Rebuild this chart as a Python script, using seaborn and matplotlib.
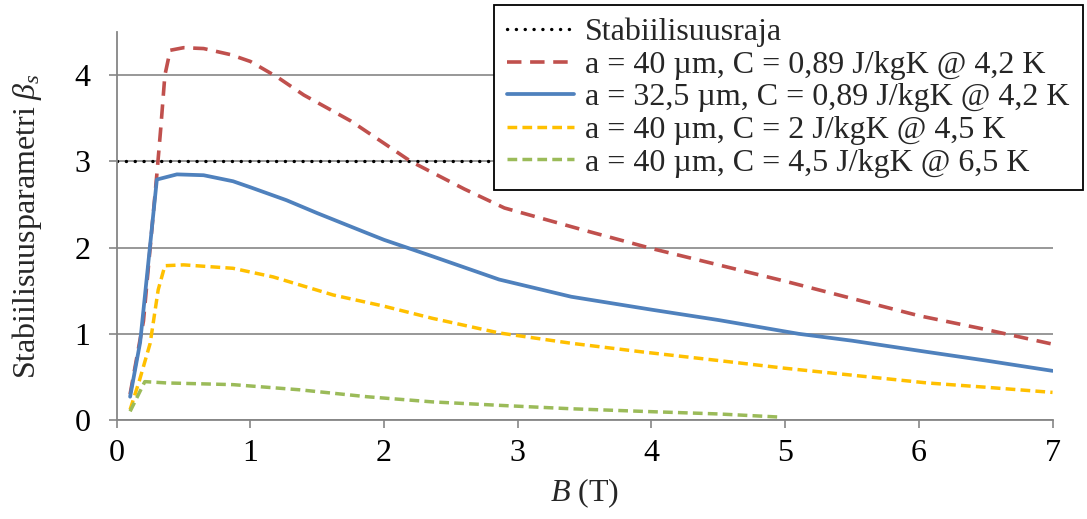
import matplotlib
matplotlib.use("Agg")
import matplotlib.pyplot as plt
import seaborn as sns
import numpy as np

# ---- data ----
stab_x = [0.0, 7.0]
stab_y = [3.0, 3.0]

red_x = [0.1, 0.2, 0.3, 0.33, 0.36, 0.4, 0.5, 0.65, 0.85, 1.0, 1.2, 1.4, 1.75, 2.0, 2.2, 2.6, 2.9, 3.5, 4.0, 4.5, 5.0, 5.5, 6.0, 6.5, 7.0]
red_y = [0.3, 1.15, 2.85, 3.4, 4.0, 4.29, 4.32, 4.31, 4.24, 4.16, 3.98, 3.77, 3.47, 3.21, 3.0, 2.68, 2.46, 2.2, 1.99, 1.80, 1.61, 1.41, 1.21, 1.05, 0.88]

blue_x = [0.1, 0.175, 0.3, 0.45, 0.65, 0.87, 1.0, 1.27, 1.5, 1.87, 2.0, 2.36, 2.86, 3.4, 4.0, 4.5, 5.1, 5.5, 6.06, 6.5, 7.0]
blue_y = [0.27, 0.9, 2.79, 2.85, 2.84, 2.77, 2.70, 2.55, 2.40, 2.17, 2.09, 1.90, 1.63, 1.43, 1.28, 1.16, 1.0, 0.92, 0.79, 0.69, 0.57]

yel_x = [0.1, 0.17, 0.25, 0.31, 0.36, 0.5, 0.87, 1.17, 1.62, 2.0, 2.36, 2.86, 3.4, 3.93, 4.5, 5.0, 5.5, 6.06, 6.5, 7.0]
yel_y = [0.12, 0.46, 0.89, 1.51, 1.79, 1.80, 1.76, 1.66, 1.45, 1.32, 1.18, 1.01, 0.89, 0.79, 0.69, 0.60, 0.52, 0.43, 0.38, 0.32]

grn_x = [0.1, 0.21, 0.37, 0.87, 1.37, 1.87, 2.36, 2.86, 3.4, 3.93, 4.5, 4.94]
grn_y = [0.10, 0.445, 0.43, 0.41, 0.35, 0.27, 0.21, 0.17, 0.13, 0.10, 0.07, 0.035]

labels = ["Stabiilisuusraja",
          "a = 40 µm, C = 0,89 J/kgK @ 4,2 K",
          "a = 32,5 µm, C = 0,89 J/kgK @ 4,2 K",
          "a = 40 µm, C = 2 J/kgK @ 4,5 K",
          "a = 40 µm, C = 4,5 J/kgK @ 6,5 K"]
x_ticks = [0, 1, 2, 3, 4, 5, 6, 7]
y_ticks = [0, 1, 2, 3, 4]

# ---- style ----
sns.set_theme(style="white")
plt.rcParams['font.family'] = ['Liberation Serif', 'DejaVu Serif']
plt.rcParams['mathtext.fontset'] = 'custom'
plt.rcParams['mathtext.rm'] = 'Liberation Serif'
plt.rcParams['mathtext.it'] = 'Liberation Serif:italic'

FS = 23

fig = plt.figure(figsize=(10.87, 5.19), dpi=100)
ax = fig.add_axes([0.1074, 0.1908, 0.9683 - 0.1074, 0.938 - 0.1908])

gray = "#868686"
sns.lineplot(x=stab_x, y=stab_y, ax=ax, color="black", lw=2.4,
             linestyle=(0, (0.05, 2.6)), dash_capstyle="round", label=labels[0])
sns.lineplot(x=red_x, y=red_y, ax=ax, color="#C0504D", lw=2.6, sort=False,
             linestyle=(0, (4.0, 2.4)), label=labels[1])
sns.lineplot(x=blue_x, y=blue_y, ax=ax, color="#4F81BD", lw=2.7, sort=False,
             linestyle="-", label=labels[2])
sns.lineplot(x=yel_x, y=yel_y, ax=ax, color="#FFC000", lw=2.5, sort=False,
             linestyle=(0, (2.8, 1.5)), label=labels[3])
sns.lineplot(x=grn_x, y=grn_y, ax=ax, color="#9BBB59", lw=2.5, sort=False,
             linestyle=(0, (2.8, 1.5)), label=labels[4])

ax.set_xlim(0, 7)
ax.set_ylim(0, 4.5)
ax.set_xticks(x_ticks)
ax.set_yticks(y_ticks)
ax.set_xticklabels([str(v) for v in x_ticks])
ax.set_yticklabels([str(v) for v in y_ticks])
ax.tick_params(axis='both', labelsize=FS, colors=gray, labelcolor='black',
               direction='out', length=6, width=1.2)
ax.tick_params(axis='x', pad=8)
ax.tick_params(axis='y', pad=13)
ax.tick_params(bottom=True, left=True)

for s in ["top", "right"]:
    ax.spines[s].set_visible(False)
for s in ["left", "bottom"]:
    ax.spines[s].set_color(gray)
    ax.spines[s].set_linewidth(1.3)

ax.yaxis.grid(True, color=gray, lw=1.2)
ax.xaxis.grid(False)
ax.set_axisbelow(True)

ax.set_xlabel(r"$B$ (T)", fontsize=FS, labelpad=6)
ax.set_ylabel(r"Stabiilisuusparametri $\beta_s$", fontsize=FS, labelpad=22)

leg = ax.legend(loc="upper left", bbox_to_anchor=(494 / 1087, 1 - 5 / 519),
                bbox_transform=fig.transFigure, fontsize=FS, frameon=True,
                fancybox=False, framealpha=1, edgecolor="black",
                handlelength=2.1, handletextpad=0.36, labelspacing=0.1,
                borderpad=0.4, borderaxespad=0)
leg.get_frame().set_linewidth(1.3)
leg.set_zorder(10)

fig.savefig("out.png", dpi=100)
